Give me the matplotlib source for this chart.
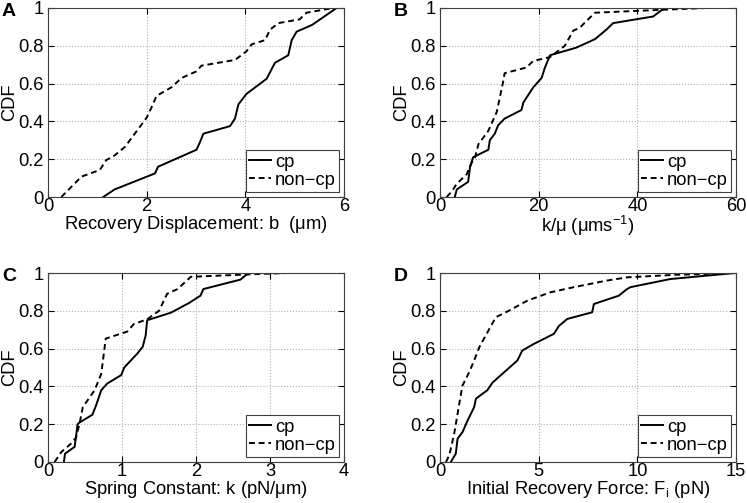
import numpy as np
import matplotlib
matplotlib.use("Agg")
import matplotlib.pyplot as plt

plt.rcParams['font.family'] = ['Liberation Sans', 'DejaVu Sans']
plt.rcParams['mathtext.fontset'] = 'custom'
plt.rcParams['mathtext.rm'] = 'Liberation Sans'
plt.rcParams['mathtext.it'] = 'Liberation Sans:italic'
plt.rcParams['font.size'] = 13.2

# Panel A: recovery displacement b (um)
a_cp_x = [1.12, 1.35, 2.17, 2.23, 3.01, 3.08, 3.15, 3.69, 3.79, 3.86, 4.02, 4.43, 4.6, 4.87, 4.94, 5.04, 5.35, 5.85]
a_cp_y = [0, 0.04, 0.125, 0.16, 0.25, 0.29, 0.335, 0.375, 0.415, 0.49, 0.545, 0.625, 0.71, 0.75, 0.83, 0.875, 0.91, 1.0]
a_non_x = [0.27, 0.68, 1.05, 1.18, 1.35, 1.56, 2.0, 2.1, 2.2, 2.5, 2.71, 3.01, 3.11, 3.79, 4.02, 4.13, 4.4, 4.5, 4.67, 5.1, 5.24, 5.78]
a_non_y = [0, 0.108, 0.143, 0.195, 0.22, 0.265, 0.42, 0.475, 0.535, 0.58, 0.63, 0.665, 0.695, 0.725, 0.77, 0.808, 0.83, 0.885, 0.92, 0.94, 0.975, 1.0]

# Panel B: k/mu (um s^-1)
b_cp_x = [3.0, 3.4, 5.7, 6.1, 6.7, 9.8, 10.1, 11.1, 11.8, 13.1, 16.5, 16.9, 18.9, 20.6, 21.2, 22.3, 27.6, 31.4, 33.7, 35.1, 43.2, 45.5]
b_cp_y = [0, 0.04, 0.08, 0.16, 0.21, 0.25, 0.3, 0.335, 0.38, 0.415, 0.46, 0.5, 0.58, 0.63, 0.68, 0.75, 0.79, 0.835, 0.885, 0.92, 0.955, 1.0]
b_non_x = [1.35, 2.4, 3.4, 5.4, 6.4, 7.1, 7.8, 9.8, 11.5, 12.8, 13.1, 17.5, 18.9, 22.3, 25.3, 27.0, 28.3, 31.4, 44.5, 54.0]
b_non_y = [0, 0.03, 0.07, 0.12, 0.18, 0.21, 0.28, 0.35, 0.45, 0.61, 0.655, 0.685, 0.72, 0.74, 0.8, 0.88, 0.895, 0.975, 0.99, 1.0]

# Panel C: spring constant k (pN/um)
c_cp_x = [0.215, 0.23, 0.36, 0.40, 0.43, 0.6, 0.65, 0.72, 0.8, 0.99, 1.03, 1.21, 1.28, 1.32, 1.34, 1.66, 1.9, 2.06, 2.1, 2.6, 2.71]
c_cp_y = [0, 0.044, 0.08, 0.2, 0.21, 0.25, 0.3, 0.38, 0.415, 0.46, 0.5, 0.575, 0.61, 0.67, 0.75, 0.79, 0.84, 0.88, 0.915, 0.965, 1.0]
c_non_x = [0.09, 0.18, 0.31, 0.38, 0.43, 0.47, 0.63, 0.72, 0.78, 1.07, 1.16, 1.34, 1.5, 1.61, 1.75, 1.93, 2.87, 3.25]
c_non_y = [0, 0.053, 0.097, 0.13, 0.21, 0.29, 0.38, 0.467, 0.653, 0.69, 0.73, 0.755, 0.8, 0.89, 0.915, 0.98, 0.995, 1.0]

# Panel D: initial recovery force Fi (pN)
d_cp_x = [0.55, 0.8, 0.89, 1.14, 1.4, 1.73, 1.82, 2.4, 2.66, 3.92, 4.17, 4.76, 5.77, 6.03, 6.45, 7.71, 7.8, 9.06, 9.48, 9.65, 11.67, 14.95]
d_cp_y = [0, 0.044, 0.123, 0.158, 0.22, 0.29, 0.335, 0.38, 0.42, 0.537, 0.59, 0.625, 0.678, 0.72, 0.757, 0.792, 0.836, 0.88, 0.915, 0.925, 0.968, 1.0]
d_non_x = [0.3, 0.47, 0.72, 0.98, 1.14, 1.48, 1.73, 1.99, 2.41, 2.83, 3.5, 4.43, 5.6, 6.78, 8.46, 9.48, 11.84, 15.0]
d_non_y = [0, 0.035, 0.15, 0.31, 0.405, 0.475, 0.537, 0.607, 0.687, 0.766, 0.801, 0.854, 0.898, 0.925, 0.96, 0.977, 0.99, 1.0]

letters = ['A', 'B', 'C', 'D']
xlabels = [r'Recovery Displacement: b  ($\mathregular{\mu}$m)',
           r'k/$\mathregular{\mu}$ ($\mathregular{\mu}$ms$^{-1}$)',
           r'Spring Constant: k (pN/$\mathregular{\mu}$m)',
           r'Initial Recovery Force: F$_\mathregular{i}$ (pN)']
xlims = [6, 60, 4, 15]
xticks = [[0, 2, 4, 6], [0, 20, 40, 60], [0, 1, 2, 3, 4], [0, 5, 10, 15]]
series = [(a_cp_x, a_cp_y, a_non_x, a_non_y),
          (b_cp_x, b_cp_y, b_non_x, b_non_y),
          (c_cp_x, c_cp_y, c_non_x, c_non_y),
          (d_cp_x, d_cp_y, d_non_x, d_non_y)]

W, H = 747, 503
fig = plt.figure(figsize=(W / 100, H / 100), dpi=100)

# axes boxes in pixels: left, top, right, bottom
boxes = [(48, 8, 344, 197), (440, 8, 736, 197), (48, 273, 344, 462), (440, 273, 736, 462)]

for i in range(4):
    l, t, r, b = boxes[i]
    ax = fig.add_axes([l / W, 1 - b / H, (r - l) / W, (b - t) / H])
    cx, cy, nx, ny = series[i]
    ax.plot(cx, cy, 'k-', lw=1.4, label='cp')
    ax.plot(nx, ny, 'k--', lw=1.4, dashes=(3, 2), label='non\u2212cp')
    ax.set_xlim(0, xlims[i])
    ax.set_ylim(0, 1)
    ax.set_xticks(xticks[i])
    ax.set_yticks([0, 0.2, 0.4, 0.6, 0.8, 1])
    ax.set_yticklabels(['0', '0.2', '0.4', '0.6', '0.8', '1'])
    ax.tick_params(direction='in', top=True, right=True, length=4)
    ax.tick_params(axis='x', pad=1)
    ax.tick_params(axis='y', pad=3)
    ax.grid(True, linestyle=':', color='#b0b0b0', lw=0.8)
    for s in ax.spines.values():
        s.set_color('#404040')
        s.set_linewidth(0.8)
    ax.set_xlabel(xlabels[i], labelpad=-1)
    ax.set_ylabel('CDF', labelpad=0)
    leg = ax.legend(loc='lower right', fancybox=False, framealpha=1, edgecolor='#404040',
                    handlelength=1.2, handletextpad=0.2, borderaxespad=0.25,
                    borderpad=0.2, labelspacing=0.05)
    leg.get_frame().set_linewidth(0.8)
    fig.text((l - 46) / W, 1 - (t - 5) / H, letters[i], fontsize=14, fontweight='bold', va='top', ha='left')

fig.savefig('out.png', dpi=100)
